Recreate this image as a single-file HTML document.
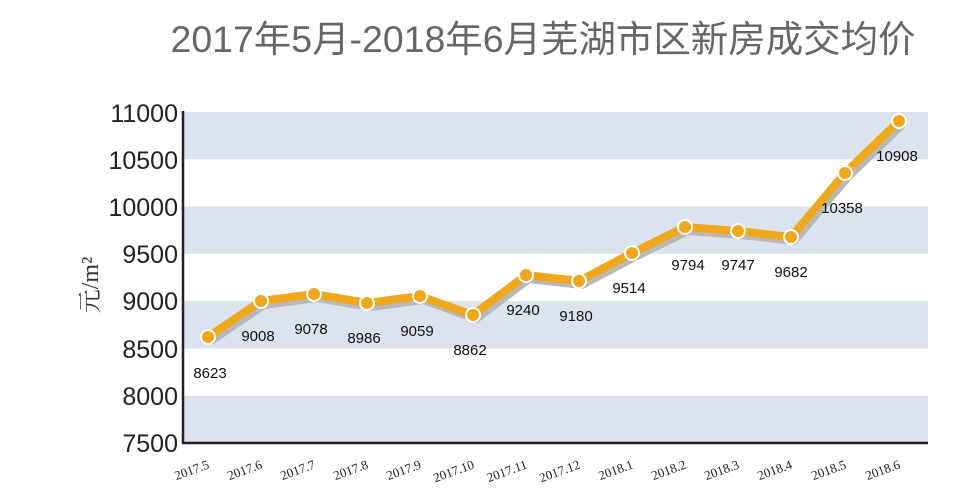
<!DOCTYPE html><html><head><style>body{margin:0;background:#fff}svg{display:block}</style></head><body>
<svg width="978" height="495" xmlns="http://www.w3.org/2000/svg">
<rect width="978" height="495" fill="#fff"/>
<text x="543" y="52" text-anchor="middle" font-family="Liberation Sans, Noto Sans CJK SC, sans-serif" font-size="37" fill="#666" textLength="745" lengthAdjust="spacingAndGlyphs">2017年5月-2018年6月芜湖市区新房成交均价</text>
<g fill="#dae3ee">
<rect x="184" y="112" width="744" height="47.3"/>
<rect x="184" y="206.6" width="744" height="47.3"/>
<rect x="184" y="301.1" width="744" height="47.3"/>
<rect x="184" y="395.7" width="744" height="47.3"/>
</g>
<line x1="183" y1="111" x2="183" y2="444" stroke="#222" stroke-width="2.5"/>
<line x1="182" y1="443" x2="928" y2="443" stroke="#222" stroke-width="2.5"/>
<g font-family="Liberation Sans, sans-serif" font-size="25" fill="#222" text-anchor="end">
<text x="178" y="122">11000</text><text x="178" y="169">10500</text><text x="178" y="216">10000</text><text x="178" y="263">9500</text><text x="178" y="310">9000</text><text x="178" y="358">8500</text><text x="178" y="405">8000</text><text x="178" y="452">7500</text>
</g>
<text transform="translate(98,285) rotate(-90)" font-family="Liberation Serif, Noto Serif CJK SC, serif" font-size="24" fill="#333" text-anchor="middle">元/m²</text>
<polyline fill="none" stroke="#b8b8b8" stroke-width="8" stroke-linejoin="round" transform="translate(3,4)" points="208,337 261,301 314,294 367,303 420,296 473,315 526,275 579,281 632,253 685,227 738,231 791,237 845,173 899,121"/>
<polyline fill="none" stroke="#f0a81a" stroke-width="8" stroke-linejoin="round" points="208,337 261,301 314,294 367,303 420,296 473,315 526,275 579,281 632,253 685,227 738,231 791,237 845,173 899,121"/>
<g fill="#f0a81a" stroke="#fff" stroke-width="2">
<circle cx="208" cy="337" r="7"/><circle cx="261" cy="301" r="7"/><circle cx="314" cy="294" r="7"/><circle cx="367" cy="303" r="7"/><circle cx="420" cy="296" r="7"/><circle cx="473" cy="315" r="7"/><circle cx="526" cy="275" r="7"/><circle cx="579" cy="281" r="7"/><circle cx="632" cy="253" r="7"/><circle cx="685" cy="227" r="7"/><circle cx="738" cy="231" r="7"/><circle cx="791" cy="237" r="7"/><circle cx="845" cy="173" r="7"/><circle cx="899" cy="121" r="7"/>
</g>
<g font-family="Liberation Sans, sans-serif" font-size="15" fill="#111" text-anchor="middle">
<text x="210" y="378">8623</text><text x="258" y="341">9008</text><text x="311" y="334">9078</text><text x="364" y="343">8986</text><text x="417" y="336">9059</text><text x="470" y="355">8862</text><text x="523" y="315">9240</text><text x="576" y="321">9180</text><text x="629" y="293">9514</text><text x="688" y="270">9794</text><text x="738" y="270">9747</text><text x="791" y="277">9682</text><text x="842" y="213">10358</text><text x="897" y="161">10908</text>
</g>
<g font-family="Liberation Serif, serif" font-size="13" fill="#222" text-anchor="end">
<text transform="translate(210,468) rotate(-20)">2017.5</text>
<text transform="translate(263,468) rotate(-20)">2017.6</text>
<text transform="translate(316,468) rotate(-20)">2017.7</text>
<text transform="translate(369,468) rotate(-20)">2017.8</text>
<text transform="translate(422,468) rotate(-20)">2017.9</text>
<text transform="translate(475,468) rotate(-20)">2017.10</text>
<text transform="translate(528,468) rotate(-20)">2017.11</text>
<text transform="translate(581,468) rotate(-20)">2017.12</text>
<text transform="translate(634,468) rotate(-20)">2018.1</text>
<text transform="translate(687,468) rotate(-20)">2018.2</text>
<text transform="translate(740,468) rotate(-20)">2018.3</text>
<text transform="translate(793,468) rotate(-20)">2018.4</text>
<text transform="translate(847,468) rotate(-20)">2018.5</text>
<text transform="translate(901,468) rotate(-20)">2018.6</text>
</g>
</svg>
</body></html>
